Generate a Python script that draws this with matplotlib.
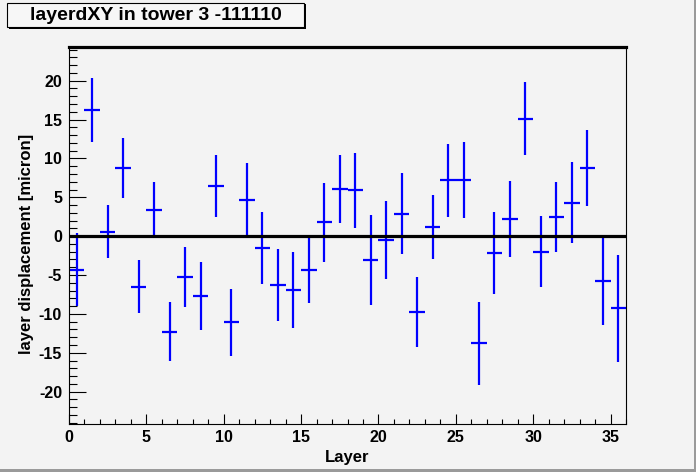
import matplotlib
matplotlib.use("Agg")
import matplotlib.pyplot as plt
from matplotlib.patches import Rectangle
from matplotlib.ticker import MultipleLocator

layer = [0.5, 1.5, 2.5, 3.5, 4.5, 5.5, 6.5, 7.5, 8.5, 9.5, 10.5, 11.5,
         12.5, 13.5, 14.5, 15.5, 16.5, 17.5, 18.5, 19.5, 20.5, 21.5, 22.5, 23.5,
         24.5, 25.5, 26.5, 27.5, 28.5, 29.5, 30.5, 31.5, 32.5, 33.5, 34.5, 35.5]
displacement = [-4.3, 16.2, 0.6, 8.8, -6.5, 3.4, -12.3, -5.2, -7.7, 6.5, -11.1, 4.7,
                -1.5, -6.3, -6.9, -4.3, 1.8, 6.1, 5.9, -3.1, -0.5, 2.9, -9.8, 1.2,
                7.2, 7.2, -13.8, -2.2, 2.2, 15.1, -2.0, 2.5, 4.3, 8.8, -5.8, -9.3]
error = [4.7, 4.1, 3.4, 3.85, 3.4, 3.55, 3.8, 3.85, 4.35, 4.0, 4.3, 4.65,
         4.6, 4.6, 4.9, 4.25, 5.1, 4.4, 4.85, 5.8, 5.0, 5.2, 4.5, 4.1,
         4.7, 4.9, 5.3, 5.3, 4.9, 4.7, 4.6, 4.5, 5.2, 4.9, 5.65, 6.9]

title = "layerdXY in tower 3 -111110"
bg = "#f3f3f3"

plt.rcParams["font.family"] = ["Liberation Sans", "DejaVu Sans"]
plt.rcParams["font.weight"] = "bold"
plt.rcParams["axes.unicode_minus"] = False

fig = plt.figure(figsize=(6.96, 4.72), dpi=100, facecolor=bg)
ax = fig.add_axes([69 / 696, 48.5 / 472, 557 / 696, 377 / 472])
ax.set_facecolor(bg)

ax.errorbar(layer, displacement, xerr=0.5, yerr=error, fmt="none",
            ecolor="#0000ff", elinewidth=1.6, capsize=0)
ax.axhline(0, color="black", linewidth=2.3)

ax.set_xlim(0, 36)
ax.set_ylim(-24.1, 24.4)
ax.xaxis.set_major_locator(MultipleLocator(5))
ax.xaxis.set_minor_locator(MultipleLocator(1))
ax.yaxis.set_major_locator(MultipleLocator(5))
ax.yaxis.set_minor_locator(MultipleLocator(1))
ax.tick_params(axis="x", which="major", direction="in", length=7.5, width=0.8,
               labelsize=11.5, pad=5)
ax.tick_params(axis="x", which="minor", direction="in", length=3.8, width=0.8)
ax.tick_params(axis="y", which="major", direction="in", length=12.5, width=0.8,
               labelsize=11.5, pad=5)
ax.tick_params(axis="y", which="minor", direction="in", length=6, width=0.8)
for lab in ax.get_xticklabels() + ax.get_yticklabels():
    lab.set_fontweight("bold")

for side in ["left", "right", "bottom"]:
    ax.spines[side].set_linewidth(0.8)
ax.spines["top"].set_linewidth(2.3)

ax.set_xlabel("Layer", fontsize=12, fontweight="bold", labelpad=3)
ax.set_ylabel("layer displacement [micron]", fontsize=12, fontweight="bold")
ax.yaxis.set_label_coords(-0.062, 0.476)

# ROOT-style title box with shadow
fig.add_artist(Rectangle((9 / 696, (472 - 29) / 472), 297 / 696, 25 / 472,
                         transform=fig.transFigure, facecolor="black",
                         edgecolor="none"))
fig.add_artist(Rectangle((7 / 696, (472 - 27) / 472), 297 / 696, 24 / 472,
                         transform=fig.transFigure, facecolor="#f7f7f7",
                         edgecolor="black", linewidth=0.8))
fig.text(156 / 696, (472 - 15) / 472, title, fontsize=14, fontweight="bold",
         ha="center", va="center")

# canvas bevel at the bottom and right edges
fig.add_artist(Rectangle((0, 0), 1, 3 / 472, transform=fig.transFigure,
                         facecolor="#9a9a9a", edgecolor="none"))
fig.add_artist(Rectangle((1 - 2 / 696, 0), 2 / 696, 1, transform=fig.transFigure,
                         facecolor="#9a9a9a", edgecolor="none"))

fig.savefig("out.png", dpi=100, facecolor=bg)
